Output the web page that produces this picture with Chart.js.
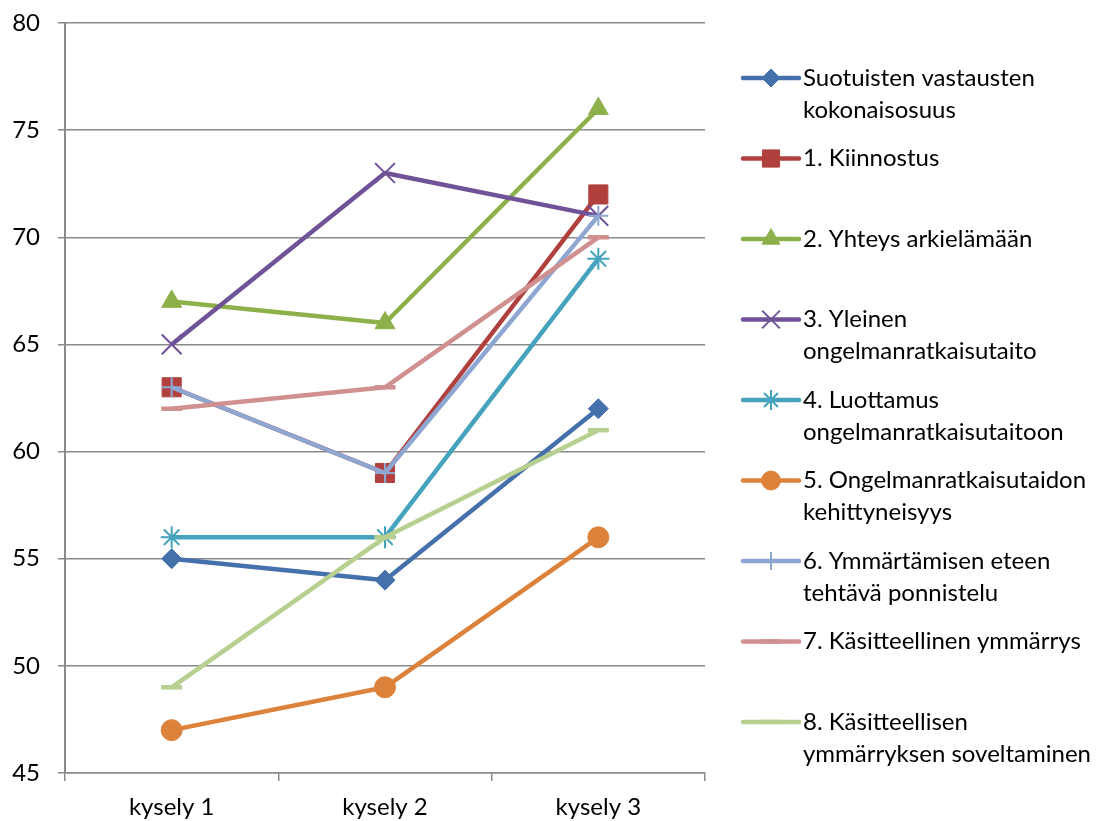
<!DOCTYPE html>
<html>
<head>
<meta charset="utf-8">
<script src="https://cdn.jsdelivr.net/npm/chart.js@4/dist/chart.umd.min.js"></script>
<style>
    html, body { margin: 0; padding: 0; background: #fff; }
    #wrap { width: 1106px; height: 821px; }
</style>
</head>
<body>
<div id="wrap"><canvas id="chart" width="1106" height="821"></canvas></div>
<script>
const categories = ["kysely 1", "kysely 2", "kysely 3"];

const suotuiset = [55, 54, 62];
const kiinnostus = [63, 59, 72];
const yhteys = [67, 66, 76];
const yleinen = [65, 73, 71];
const luottamus = [56, 56, 69];
const kehittyneisyys = [47, 49, 56];
const ponnistelu = [63, 59, 71];
const kasitteellinen = [62, 63, 70];
const soveltaminen = [49, 56, 61];

const seriesNames = [
    ["Suotuisten vastausten", "kokonaisosuus"],
    ["1. Kiinnostus"],
    ["2. Yhteys arkielämään"],
    ["3. Yleinen", "ongelmanratkaisutaito"],
    ["4. Luottamus", "ongelmanratkaisutaitoon"],
    ["5. Ongelmanratkaisutaidon", "kehittyneisyys"],
    ["6. Ymmärtämisen eteen", "tehtävä ponnistelu"],
    ["7. Käsitteellinen ymmärrys"],
    ["8. Käsitteellisen", "ymmärryksen soveltaminen"]
];

const yTicks = { min: 45, max: 80, step: 5 };

const GRID = "#8a8a8a";
const FONT_SIZE = 24;

/**
 * 한 개 시리즈 설정
 */
function makeSeries(i, data, color, style, radius, markerWidth) {
    return {
        label: seriesNames[i].join(" "),
        names: seriesNames[i],
        data: data,
        borderColor: color,
        backgroundColor: color,
        borderWidth: 4.5,
        borderJoinStyle: "round",
        tension: 0,
        pointStyle: style,
        pointRadius: radius,
        pointHoverRadius: radius,
        pointBackgroundColor: color,
        pointBorderColor: color,
        pointBorderWidth: markerWidth,
        order: 20 - i          // 엑셀처럼 뒤 시리즈가 위에 그려지게
    };
}

// 오른쪽 범례 직접 그리기
const sideLegend = {
    id: "sideLegend",
    afterDraw(chart) {
        const ctx = chart.ctx;
        const x0 = chart.chartArea.right + 38;
        const x1 = x0 + 56;
        ctx.save();
        chart.data.datasets.forEach((ds, i) => {
            const y = 78 + i * 80.5;
            ctx.strokeStyle = ds.borderColor;
            ctx.lineWidth = ds.borderWidth;
            ctx.lineCap = "round";
            ctx.beginPath();
            ctx.moveTo(x0, y);
            ctx.lineTo(x1, y);
            ctx.stroke();

            ctx.lineCap = "butt";
            ctx.fillStyle = ds.pointBackgroundColor;
            ctx.strokeStyle = ds.pointBorderColor;
            ctx.lineWidth = ds.pointBorderWidth;
            if (Chart.helpers && Chart.helpers.drawPoint) {
                Chart.helpers.drawPoint(ctx, {
                    pointStyle: ds.pointStyle,
                    radius: ds.pointRadius * 0.9,
                    rotation: 0,
                    borderWidth: ds.pointBorderWidth
                }, (x0 + x1) / 2, y);
            }

            ctx.fillStyle = "#000";
            ctx.font = FONT_SIZE + "px Lato";
            ctx.textAlign = "left";
            ctx.textBaseline = "middle";
            ds.names.forEach((t, k) => ctx.fillText(t, x1 + 4, y + k * 32));
        });
        ctx.restore();
    }
};

Chart.defaults.font.family = "Lato";
Chart.defaults.font.size = FONT_SIZE;
Chart.defaults.color = "#000";

new Chart(document.getElementById("chart"), {
    type: "line",
    data: {
        labels: categories,
        datasets: [
            makeSeries(0, suotuiset, "#4470ab", "rectRot", 10, 1),
            makeSeries(1, kiinnostus, "#b0403d", "rect", 13.5, 1),
            makeSeries(2, yhteys, "#8eb04a", "triangle", 11.5, 1),
            makeSeries(3, yleinen, "#6f5297", "crossRot", 14, 2),
            makeSeries(4, luottamus, "#45a3bd", "star", 11, 2),
            makeSeries(5, kehittyneisyys, "#dc823b", "circle", 10.5, 1),
            makeSeries(6, ponnistelu, "#8ea7d2", "cross", 10, 2),
            makeSeries(7, kasitteellinen, "#d09090", "line", 10.5, 4.5),
            makeSeries(8, soveltaminen, "#b7cf8f", "line", 10.5, 4.5)
        ]
    },
    options: {
        responsive: false,
        animation: false,
        layout: { padding: { top: 23, right: 401, bottom: 0, left: 0 } },
        plugins: {
            legend: { display: false },
            tooltip: { enabled: false }
        },
        scales: {
            x: {
                offset: true,
                grid: {
                    offset: true,
                    drawOnChartArea: false,
                    drawTicks: true,
                    tickLength: 8,
                    color: GRID,
                    lineWidth: 1.5
                },
                border: { color: GRID, width: 1.5 },
                ticks: { padding: 12, maxRotation: 0 },
                afterFit(scale) { scale.height = 48; }
            },
            y: {
                min: yTicks.min,
                max: yTicks.max,
                grid: {
                    color: GRID,
                    lineWidth: 1.5,
                    tickLength: 7
                },
                border: { color: GRID, width: 2 },
                ticks: { stepSize: yTicks.step, padding: 18 },
                afterFit(scale) {
                    scale.width = 65;
                    scale.paddingTop = 0;      // 위쪽 여백은 layout padding으로만
                    scale.paddingBottom = 0;
                }
            }
        }
    },
    plugins: [sideLegend]
});
</script>
</body>
</html>
